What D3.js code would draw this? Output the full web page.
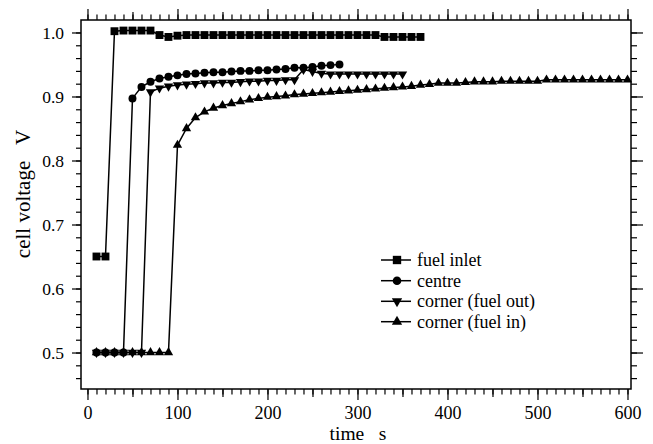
<!DOCTYPE html>
<html lang="en">

<head>
    <meta charset="UTF-8">
    <title>cell voltage vs time</title>
    <script src="https://d3js.org/d3.v7.min.js"></script>
    <style>
        html,
        body {
            margin: 0;
            padding: 0;
            overflow: hidden;
            background: #ffffff;
        }
    </style>
</head>

<body>
    <svg id="chart" width="653" height="444"></svg>

    <script>
        // sample times (s), shared by every series; each series uses the first N of them
        const times = [10, 20, 30, 40, 50, 60, 70, 80, 90, 100,
            110, 120, 130, 140, 150, 160, 170, 180, 190, 200,
            210, 220, 230, 240, 250, 260, 270, 280, 290, 300,
            310, 320, 330, 340, 350, 360, 370, 380, 390, 400,
            410, 420, 430, 440, 450, 460, 470, 480, 490, 500,
            510, 520, 530, 540, 550, 560, 570, 580, 590, 600];

        // cell voltage (V)
        const fuel_inlet = [0.650, 0.650, 1.002, 1.003, 1.003, 1.003, 1.003, 0.996, 0.993, 0.995,
            0.996, 0.996, 0.996, 0.996, 0.996, 0.996, 0.996, 0.996, 0.996, 0.996,
            0.996, 0.996, 0.996, 0.996, 0.996, 0.996, 0.996, 0.996, 0.996, 0.996,
            0.996, 0.996, 0.993, 0.993, 0.993, 0.993, 0.993];

        const centre = [0.500, 0.500, 0.500, 0.500, 0.897, 0.915, 0.923, 0.928, 0.931, 0.933,
            0.935, 0.936, 0.937, 0.938, 0.938, 0.939, 0.940, 0.940, 0.941, 0.941,
            0.942, 0.943, 0.945, 0.945, 0.946, 0.948, 0.949, 0.950];

        const corner_fuel_out = [0.500, 0.500, 0.500, 0.500, 0.500, 0.500, 0.907, 0.913, 0.916, 0.918,
            0.919, 0.920, 0.921, 0.921, 0.922, 0.922, 0.923, 0.924, 0.924, 0.925,
            0.925, 0.926, 0.926, 0.942, 0.939, 0.936, 0.935, 0.935, 0.935, 0.935,
            0.935, 0.935, 0.935, 0.935, 0.935];

        const corner_fuel_in = [0.500, 0.500, 0.500, 0.500, 0.500, 0.500, 0.500, 0.500, 0.500, 0.824,
            0.850, 0.867, 0.876, 0.882, 0.886, 0.889, 0.892, 0.895, 0.897, 0.899,
            0.900, 0.901, 0.903, 0.904, 0.905, 0.906, 0.907, 0.908, 0.909, 0.910,
            0.911, 0.912, 0.913, 0.914, 0.915, 0.916, 0.918, 0.919, 0.921, 0.921,
            0.921, 0.922, 0.923, 0.923, 0.923, 0.924, 0.924, 0.924, 0.924, 0.924,
            0.926, 0.926, 0.926, 0.926, 0.926, 0.926, 0.926, 0.926, 0.926, 0.926];

        const x_ticks = [0, 100, 200, 300, 400, 500, 600];
        const y_ticks = [0.5, 0.6, 0.7, 0.8, 0.9, 1.0];

        const series = [
            { name: "fuel inlet", values: fuel_inlet, symbol: d3.symbolSquare, size: 62, rotate: 0 },
            { name: "centre", values: centre, symbol: d3.symbolCircle, size: 50, rotate: 0 },
            { name: "corner (fuel out)", values: corner_fuel_out, symbol: d3.symbolTriangle, size: 38, rotate: 180 },
            { name: "corner (fuel in)", values: corner_fuel_in, symbol: d3.symbolTriangle, size: 38, rotate: 0 }
        ];

        const serif = "'Liberation Serif', 'DejaVu Serif', serif";

        const svg = d3.select("#chart").attr("font-family", serif);
        const box = { left: 81, right: 631, top: 20, bottom: 389 };

        const x = d3.scaleLinear().domain([-7.2, 603.9]).range([box.left, box.right]);
        const y = d3.scaleLinear().domain([0.443, 1.0195]).range([box.bottom, box.top]);

        const x_minor = d3.range(0, 601, 10);
        const x_mid = d3.range(50, 600, 100);
        const y_minor = d3.range(0.46, 1.001, 0.02);

        function ticks(axis, values, size, at, labels) {
            const g = svg.append("g")
                .attr("transform", at)
                .call(axis.tickValues(values).tickSize(size).tickSizeOuter(0)
                    .tickFormat(labels || (() => "")));
            g.select(".domain").remove();
            g.selectAll("line").attr("stroke", "#000").attr("stroke-width", 1.2);
            g.attr("font-family", serif);
            g.selectAll("text").attr("fill", "#000");
            return g;
        }

        // bottom and top
        ticks(d3.axisBottom(x), x_minor, 5.5, `translate(0,${box.bottom})`);
        ticks(d3.axisBottom(x), x_mid, 8, `translate(0,${box.bottom})`);
        ticks(d3.axisBottom(x).tickPadding(6), x_ticks, 11, `translate(0,${box.bottom})`, d3.format("d"))
            .attr("font-size", 18);
        ticks(d3.axisTop(x), x_minor, 5.5, `translate(0,${box.top})`);
        ticks(d3.axisTop(x), x_mid, 8, `translate(0,${box.top})`);
        ticks(d3.axisTop(x), x_ticks, 11, `translate(0,${box.top})`);

        // left and right
        ticks(d3.axisLeft(y), y_minor, 5, `translate(${box.left},0)`);
        ticks(d3.axisLeft(y).tickPadding(8), y_ticks, 9, `translate(${box.left},0)`, d3.format(".1f"))
            .attr("font-size", 17.5);
        ticks(d3.axisRight(y), y_minor, 6, `translate(${box.right},0)`);
        ticks(d3.axisRight(y), y_ticks, 12, `translate(${box.right},0)`);

        svg.append("rect")
            .attr("x", box.left)
            .attr("y", box.top)
            .attr("width", box.right - box.left)
            .attr("height", box.bottom - box.top)
            .attr("fill", "none")
            .attr("stroke", "#000")
            .attr("stroke-width", 1.5);

        const line = d3.line()
            .x(d => x(d[0]))
            .y(d => y(d[1]));

        series.forEach(s => {
            const pts = s.values.map((v, i) => [times[i], v]);
            svg.append("path")
                .datum(pts)
                .attr("d", line)
                .attr("fill", "none")
                .attr("stroke", "#000")
                .attr("stroke-width", 1.5);

            svg.append("g")
                .selectAll("path")
                .data(pts)
                .enter().append("path")
                .attr("d", d3.symbol().type(s.symbol).size(s.size))
                .attr("transform", d => `translate(${x(d[0])},${y(d[1])}) rotate(${s.rotate})`)
                .attr("fill", "#000");
        });

        // legend
        const legend_rows = [260, 280.7, 301.3, 321.7];
        series.forEach((s, i) => {
            const ry = legend_rows[i];
            svg.append("line")
                .attr("x1", 381).attr("x2", 411)
                .attr("y1", ry).attr("y2", ry)
                .attr("stroke", "#000")
                .attr("stroke-width", 1.5);
            svg.append("path")
                .attr("d", d3.symbol().type(s.symbol).size(s.size + 8))
                .attr("transform", `translate(397,${ry}) rotate(${s.rotate})`)
                .attr("fill", "#000");
            svg.append("text")
                .attr("x", 417)
                .attr("y", ry + 6)
                .attr("font-family", serif)
                .attr("font-size", 18)
                .text(s.name);
        });

        // axis titles
        svg.append("text")
            .attr("x", 358)
            .attr("y", 439.5)
            .attr("text-anchor", "middle")
            .attr("font-family", serif)
            .attr("font-size", 19.5)
            .text("time\u00a0\u00a0\u00a0s");

        svg.append("text")
            .attr("transform", "translate(29.5,194) rotate(-90)")
            .attr("text-anchor", "middle")
            .attr("font-family", serif)
            .attr("font-size", 21)
            .text("cell voltage\u00a0\u00a0\u00a0V");
    </script>
</body>

</html>
